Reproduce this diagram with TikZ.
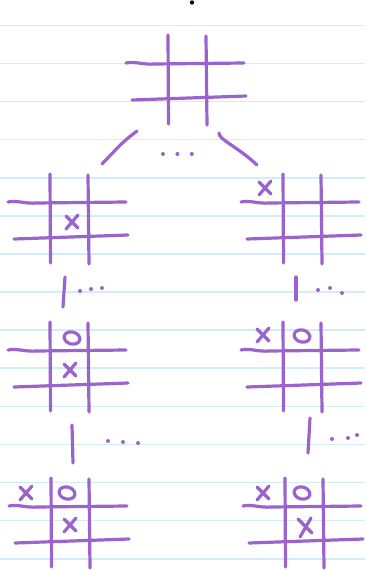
\documentclass[tikz,border=0pt]{standalone}
\usetikzlibrary{positioning,calc}
\definecolor{pen}{HTML}{9B63CC}
\definecolor{ruleblue}{HTML}{D3ECFA}

\begin{document}
\begin{tikzpicture}[x=1pt,y=-1pt,
                    ink/.style={draw=pen,line width=3.2pt,line cap=round,line join=round},
                    ruled/.style={draw=ruleblue,line width=1.6pt},
                    dot/.style={fill=pen,circle,inner sep=0pt,minimum size=4pt},
                    board/.pic={
                      \draw[ink] (0,0) -- (0.5,89);
                      \draw[ink] (38,1) -- (39,90);
                      \draw[ink] (-42,28) .. controls (-34,26) and (-24,30) .. (-14,29) -- (76,28);
                      \draw[ink] (-36,65) -- (78,61);
                    },
                    cross/.pic={
                      \draw[ink] (-6,-6) -- (6,6) (6,-7) -- (-6,7);
                    },
                    bigcross/.pic={
                      \draw[ink] (-7,-8) -- (7,6) (6,-9) -- (-5,10);
                    },
                    ring/.pic={
                      \draw[ink,rotate=-15] (0,0) ellipse (8pt and 6pt);
                    }]
  \useasboundingbox (0,0) rectangle (365,570);
  % ruled paper
  \foreach \k in {0,...,14}
    \draw[ruled] (0,25.3+38.1*\k) -- (365,25.3+38.1*\k);
  \fill (192,2.5) circle (2.2pt);

  % board corners (top of left vertical line)
  \coordinate (top) at (168,35);
  \coordinate (l1) at (50,174);
  \coordinate (r1) at (283,174);
  \coordinate (l2) at (50,322);
  \coordinate (r2) at (283,322);
  \coordinate (l3) at (51,478);
  \coordinate (r3) at (285,478);

  \pic at (top) {board};
  \pic at (l1) {board};
  \pic at (r1) {board};
  \pic at (l2) {board};
  \pic at (r2) {board};
  \pic at (l3) {board};
  \pic at (r3) {board};

  % moves
  \pic at ($(l1)+(22,48)$) {cross};
  \pic at ($(r1)+(-18,14)$) {cross};
  \pic at ($(l2)+(22,16)$) {ring};
  \pic at ($(l2)+(20,48)$) {cross};
  \pic at ($(r2)+(-20,13)$) {cross};
  \pic at ($(r2)+(19,14)$) {ring};
  \pic at ($(l3)+(-25,15)$) {cross};
  \pic at ($(l3)+(16,15)$) {ring};
  \pic at ($(l3)+(19,47)$) {cross};
  \pic at ($(r3)+(-22,15)$) {cross};
  \pic at ($(r3)+(17,15)$) {ring};
  \pic at ($(r3)+(20,49)$) {bigcross};

  % branches
  \draw[ink] ($(top)+(-31,96)$) .. controls ($(top)+(-44,106)$) .. ($(top)+(-66,129)$);
  \draw[ink] ($(top)+(51,98)$) .. controls ($(top)+(50,104)$) and ($(top)+(70,112)$) .. ($(top)+(89,130)$);
  \node[dot] (d1) at (163,154) {};
  \node[dot,right=10pt of d1] (d2) {};
  \node[dot,right=10pt of d2] (d3) {};

  % further moves
  \draw[ink] ($(l1)+(15,103)$) -- ($(l1)+(13,133)$);
  \draw[ink] ($(r1)+(13,103)$) -- ($(r1)+(13,126)$);
  \draw[ink] ($(l2)+(22,103)$) -- ($(l2)+(23,141)$);
  \draw[ink] ($(r2)+(27,96)$) -- ($(r2)+(25,131)$);
  \foreach \p in {(80,291),(91,289),(102,288),
                  (318,290),(330,288),(342,293),
                  (108,441),(123,442),(138,443),
                  (332,439),(348,438),(357,435)}
    \fill[pen] \p circle (2pt);
\end{tikzpicture}
\end{document}
